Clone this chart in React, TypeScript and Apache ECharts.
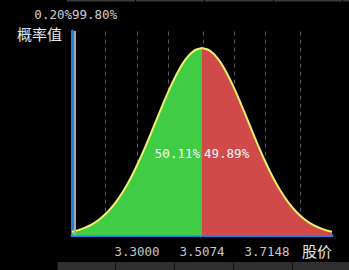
import React, { useEffect, useRef } from "react";
import * as echarts from "echarts";

// Stock price grid (x) and probability density (y)
const prices = [
  3.0924, 3.1074, 3.1324, 3.1574, 3.1824, 3.2074, 3.2324, 3.2574, 3.2824,
  3.3074, 3.3324, 3.3574, 3.3824, 3.4074, 3.4324, 3.4574, 3.4824, 3.5074,
  3.5324, 3.5574, 3.5824, 3.6074, 3.6324, 3.6574, 3.6824, 3.7074, 3.7324,
  3.7574, 3.7824, 3.8074, 3.8324, 3.8574, 3.8824, 3.9074, 3.9224,
];
const density = [
  0.053, 0.07, 0.109, 0.164, 0.242, 0.345, 0.48, 0.647, 0.849,
  1.082, 1.34, 1.613, 1.886, 2.145, 2.37, 2.545, 2.657, 2.695,
  2.657, 2.545, 2.37, 2.145, 1.886, 1.613, 1.34, 1.082, 0.849,
  0.647, 0.48, 0.345, 0.242, 0.164, 0.109, 0.07, 0.053,
];
const splitIndex = 17; // mean price 3.5074
const gridPrices = [3.1963, 3.3, 3.4037, 3.5074, 3.6111, 3.7148, 3.8185];
const tickLabels = [3.3, 3.5074, 3.7148];
const cutPrice = 3.1044;
const leftTail = "0.20%";
const rightTail = "99.80%";
const leftShare = "50.11%";
const rightShare = "49.89%";
const yName = "概率值";
const xName = "股价";

export default function App() {
  const ref = useRef<HTMLDivElement>(null);
  useEffect(() => {
    if (!ref.current) return;
    const chart = echarts.init(ref.current, undefined, { renderer: "svg" });
    const pts = prices.map((p, i) => [p, density[i]]);
    const greenPts = pts.slice(0, splitIndex + 1);
    const redPts = pts.slice(splitIndex);
    const mono = "DejaVu Sans Mono";
    const cjk = "Noto Sans CJK SC";
    const lineStyle = { color: "#f2f06a", width: 2 };
    chart.setOption({
      animation: false,
      backgroundColor: "#000000",
      grid: { left: 72, right: 17, top: 31, bottom: 34.5 },
      xAxis: {
        type: "value",
        min: prices[0],
        max: prices[prices.length - 1],
        axisLine: { show: true, onZero: false, lineStyle: { color: "#1c82e6", width: 3 } },
        axisTick: { show: false },
        splitLine: { show: false },
        axisLabel: {
          customValues: tickLabels,
          formatter: (v: number) => v.toFixed(4),
          color: "#c8c8c8",
          fontFamily: mono,
          fontSize: 12.5,
          margin: 9,
        },
      },
      yAxis: {
        type: "value",
        min: 0,
        max: 2.94,
        axisLine: { show: true, lineStyle: { color: "#1c82e6", width: 3 } },
        axisTick: { show: false },
        axisLabel: { show: false },
        splitLine: { show: false },
      },
      series: [
        {
          type: "line",
          data: [],
          z: 1,
          silent: true,
          markLine: {
            z: 1,
            silent: true,
            symbol: "none",
            label: { show: false },
            lineStyle: { color: "#5c5c5c", type: [4, 4], width: 1 },
            data: gridPrices.map((p) => ({ xAxis: p })),
          },
        },
        {
          type: "line",
          data: greenPts,
          z: 3,
          symbol: "none",
          smooth: 0.3,
          lineStyle,
          areaStyle: { color: "#40cc44", opacity: 1 },
        },
        {
          type: "line",
          data: redPts,
          z: 3,
          symbol: "none",
          smooth: 0.3,
          lineStyle,
          areaStyle: { color: "#d04a4a", opacity: 1 },
        },
        {
          type: "line",
          data: [],
          z: 8,
          markLine: {
            z: 8,
            silent: true,
            symbol: "none",
            label: { show: false },
            lineStyle: { color: "#a8a8a8", type: "solid", width: 2 },
            data: [{ xAxis: cutPrice }],
          },
        },
      ],
      graphic: [
        { type: "rect", shape: { x: 67, y: 0, width: 282, height: 1.5 }, style: { fill: "#3a3a3a" } },
        ...[135, 204, 273, 342].map((x) => ({
          type: "rect", shape: { x, y: 0, width: 1, height: 2 }, style: { fill: "#000" },
        })),
        { type: "rect", shape: { x: 57, y: 262, width: 292, height: 8 }, style: { fill: "#303030" } },
        ...[57, 115, 174, 233, 292].map((x) => ({
          type: "rect", shape: { x, y: 262, width: 1, height: 8 }, style: { fill: "#111" },
        })),
        {
          type: "text", x: 72, y: 14.5,
          style: { text: leftTail, fill: "#d0d0d0", font: `12.5px "${mono}"`, align: "right", verticalAlign: "middle" },
        },
        {
          type: "text", x: 72, y: 14.5,
          style: { text: rightTail, fill: "#d0d0d0", font: `12.5px "${mono}"`, align: "left", verticalAlign: "middle" },
        },
        {
          type: "text", x: 17, y: 33,
          style: { text: yName, fill: "#e8e8e8", font: `15px "${cjk}"`, align: "left", verticalAlign: "middle" },
        },
        {
          type: "text", x: 302, y: 250,
          style: { text: xName, fill: "#e8e8e8", font: `15px "${cjk}"`, align: "left", verticalAlign: "middle" },
        },
        {
          type: "text", x: 200, y: 153, z: 10,
          style: { text: leftShare, fill: "#ffffff", font: `12.5px "${mono}"`, align: "right", verticalAlign: "middle" },
        },
        {
          type: "text", x: 204, y: 153, z: 10,
          style: { text: rightShare, fill: "#ffffff", font: `12.5px "${mono}"`, align: "left", verticalAlign: "middle" },
        },
      ],
    });
    return () => chart.dispose();
  }, []);
  return (
    <div style={{ position: "fixed", left: 0, top: 0, width: 349, height: 270, background: "#000" }}>
      <div ref={ref} style={{ width: 349, height: 270 }} />
    </div>
  );
}
